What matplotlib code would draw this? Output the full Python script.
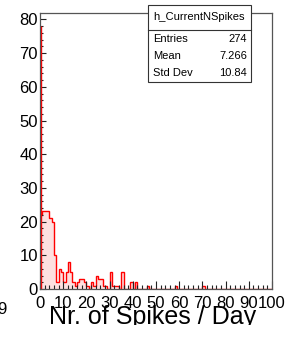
import numpy as np
import matplotlib
matplotlib.use('Agg')
import matplotlib.pyplot as plt
from matplotlib.patches import Rectangle
from matplotlib.lines import Line2D
from matplotlib.ticker import MultipleLocator
from matplotlib.transforms import Bbox

# ---------------- data ----------------
x_low, x_high = 0, 100
counts = [22, 23, 23, 23, 21, 20, 10, 2, 6, 5,
          2, 5, 8, 5, 2, 1, 2, 3, 3, 2,
          1, 0, 2, 1, 4, 3, 3, 1, 1, 0,
          5, 1, 1, 1, 0, 5, 0, 0, 0, 2,
          0, 2, 0, 0, 0, 0, 1, 0, 0, 0,
          0, 0, 0, 0, 0, 0, 0, 0, 1, 0,
          0, 0, 0, 0, 0, 0, 0, 0, 0, 0,
          1, 0, 0, 0, 0, 0, 0, 0, 0, 0,
          0, 0, 0, 0, 0, 0, 0, 0, 0, 0,
          0, 0, 0, 0, 0, 0, 0, 0, 0, 0]
zero_peak = 78
hist_name = "h_CurrentNSpikes"
stat_labels = ["Entries", "Mean", "Std Dev"]
stat_values = ["274", "7.266", "10.84"]
x_title = "Nr. of Spikes / Day"
y_max = 81.9

# ---------------- style ----------------
plt.rcParams['font.family'] = ['Liberation Sans', 'DejaVu Sans']
W, H = 308, 340
fig = plt.figure(figsize=(W / 100, H / 100), dpi=100)

def fx(px):
    return px / W

def fy(py):
    return 1 - py / H

ax_l, ax_r, ax_t, ax_b = 40, 272, 13, 289
ax = fig.add_axes([fx(ax_l), fy(ax_b), (ax_r - ax_l) / W, (ax_b - ax_t) / H])

edges = np.arange(x_low, x_high + 1)
ax.stairs(counts, edges, fill=True, color='#fde0e0', baseline=0)
ax.stairs(counts, edges, color='#ff0000', lw=1.0, baseline=0)
ax.vlines(0.3, 0, zero_peak, color='#ff0000', lw=1.0)

ax.set_xlim(x_low, x_high)
ax.set_ylim(0, y_max)

for s in ax.spines.values():
    s.set_color('#555555')
    s.set_linewidth(0.9)

tick_fs = 12
ax.xaxis.set_major_locator(MultipleLocator(10))
ax.xaxis.set_minor_locator(MultipleLocator(2))
ax.yaxis.set_major_locator(MultipleLocator(10))
ax.yaxis.set_minor_locator(MultipleLocator(2))
ax.tick_params(axis='x', which='major', direction='in', length=6, width=0.8,
               color='#222222', labelsize=tick_fs, pad=5)
ax.tick_params(axis='x', which='minor', direction='in', length=3, width=0.8,
               color='#222222')
ax.tick_params(axis='y', which='major', direction='in', length=4, width=0.8,
               color='#222222', labelsize=tick_fs, pad=1.5)
ax.tick_params(axis='y', which='minor', direction='in', length=2.2, width=0.8,
               color='#222222')

# axis title (clipped at the bottom, as in the reference)
t = fig.text(fx(256), fy(324), x_title, ha='right', va='baseline', fontsize=18)
t.set_clip_box(Bbox.from_extents(0, H - 325, W, H))
t.set_clip_on(True)

# stray partially cut label on the left
fig.text(fx(7), fy(310), "9", ha='right', va='center', fontsize=tick_fs)

# stats box
bx_l, bx_r, bx_t, bx_b, bx_sep = 148, 251, 5, 82, 30
fig.add_artist(Rectangle((fx(bx_l), fy(bx_b)), (bx_r - bx_l) / W, (bx_b - bx_t) / H,
                         transform=fig.transFigure, facecolor='white',
                         edgecolor='#333333', lw=0.8, zorder=5))
fig.add_artist(Line2D([fx(bx_l), fx(bx_r)], [fy(bx_sep), fy(bx_sep)],
                      transform=fig.transFigure, color='#333333', lw=0.8, zorder=6))
fig.text(fx((bx_l + bx_r) / 2), fy((bx_t + bx_sep) / 2), hist_name,
         ha='center', va='center', fontsize=8, zorder=7)
row_h = (bx_b - bx_sep) / len(stat_labels)
for i, (lab, val) in enumerate(zip(stat_labels, stat_values)):
    yy = fy(bx_sep + row_h * (i + 0.5))
    fig.text(fx(bx_l + 5), yy, lab, ha='left', va='center', fontsize=8, zorder=7)
    fig.text(fx(bx_r - 4), yy, val, ha='right', va='center', fontsize=8, zorder=7)

fig.savefig('out.png', dpi=100)
